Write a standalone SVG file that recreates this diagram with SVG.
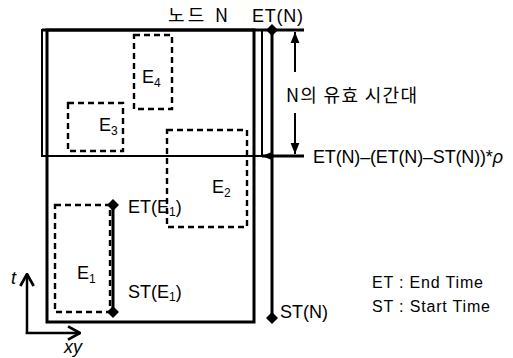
<svg xmlns="http://www.w3.org/2000/svg" width="513" height="358" viewBox="0 0 513 358">
<defs>
<style>
.t{font-family:"Liberation Sans","Noto Sans CJK KR",Arial,sans-serif;fill:#000}
.k{font-family:"Noto Sans CJK KR","Liberation Sans",sans-serif;fill:#000}
.dash{fill:none;stroke:#000;stroke-width:2.4;stroke-dasharray:6,4}
.thick{fill:none;stroke:#000;stroke-width:3}
.thin{fill:none;stroke:#000;stroke-width:2}
</style>
<marker id="fa" viewBox="0 0 10 10" refX="10" refY="5" markerWidth="11" markerHeight="11" markerUnits="userSpaceOnUse" orient="auto-start-reverse">
<path d="M0,1 L10,5 L0,9 Z" fill="#000"/>
</marker>
<marker id="oa" viewBox="0 0 12 12" refX="11" refY="6" markerWidth="16" markerHeight="16" markerUnits="userSpaceOnUse" orient="auto">
<path d="M2,1 L11,6 L2,11" fill="none" stroke="#000" stroke-width="2"/>
</marker>
</defs>

<g id="node-N">
<rect x="42" y="30" width="220" height="126" class="thin"/>
<rect x="47" y="30" width="207" height="292" class="thick"/>
<text class="k" x="168" y="22" font-size="18" textLength="60">노드 N</text>
</g>

<g id="E4">
<rect x="134" y="35" width="38" height="74" class="dash"/>
<text class="t" x="142" y="83" font-size="18">E<tspan font-size="12" dy="4">4</tspan></text>
</g>
<g id="E3">
<rect x="68" y="103" width="55" height="48" class="dash"/>
<text class="t" x="99" y="131" font-size="18">E<tspan font-size="12" dy="4">3</tspan></text>
</g>
<g id="E2">
<rect x="167" y="130" width="80" height="97" class="dash"/>
<text class="t" x="212" y="193" font-size="18">E<tspan font-size="12" dy="4">2</tspan></text>
</g>
<g id="E1">
<rect x="55" y="205" width="55" height="107" class="dash"/>
<text class="t" x="77" y="279" font-size="18">E<tspan font-size="12" dy="4">1</tspan></text>
</g>

<g id="connectors">
<line x1="42" y1="30" x2="304" y2="30" stroke="#000" stroke-width="3"/>
<line x1="262" y1="156" x2="304" y2="156" stroke="#000" stroke-width="3" marker-start="url(#fa)"/>
<line x1="272" y1="30" x2="272" y2="318" stroke="#000" stroke-width="3"/>
<path d="M272,24 L278,30 L272,36 L266,30 Z" fill="#000"/>
<path d="M272,312 L278,318 L272,324 L266,318 Z" fill="#000"/>
<line x1="295" y1="72" x2="295" y2="32" stroke="#000" stroke-width="2" marker-end="url(#fa)"/>
<line x1="295" y1="113" x2="295" y2="154" stroke="#000" stroke-width="2" marker-end="url(#fa)"/>
<line x1="113" y1="205" x2="113" y2="312" stroke="#000" stroke-width="3"/>
<path d="M113,199 L119,205 L113,211 L107,205 Z" fill="#000"/>
<path d="M113,306 L119,312 L113,318 L107,312 Z" fill="#000"/>
<line x1="27" y1="334" x2="27" y2="274" stroke="#000" stroke-width="2.5" marker-end="url(#oa)"/>
<line x1="25.8" y1="333" x2="80" y2="333" stroke="#000" stroke-width="2.5" marker-end="url(#oa)"/>
</g>

<g id="labels">
<text class="t" x="252" y="22" font-size="18" textLength="51">ET(N)</text>
<text class="k" x="286" y="102" font-size="18" textLength="131">N의 유효 시간대</text>
<text class="t" x="313" y="163" font-size="18" textLength="190">ET(N)–(ET(N)–ST(N))*<tspan font-style="italic">ρ</tspan></text>
<text class="t" x="128" y="213" font-size="18">ET(E<tspan font-size="12" dy="3">1</tspan><tspan dy="-3">)</tspan></text>
<text class="t" x="128" y="298" font-size="18">ST(E<tspan font-size="12" dy="3">1</tspan><tspan dy="-3">)</tspan></text>
<text class="t" x="280" y="318" font-size="18">ST(N)</text>
<text class="t" x="372" y="288" font-size="16" textLength="111">ET : End Time</text>
<text class="t" x="372" y="312" font-size="16" textLength="118">ST : Start Time</text>
<text class="t" x="11" y="284" font-size="18" font-style="italic">t</text>
<text class="t" x="64" y="353" font-size="18" font-style="italic">xy</text>
</g>
</svg>
